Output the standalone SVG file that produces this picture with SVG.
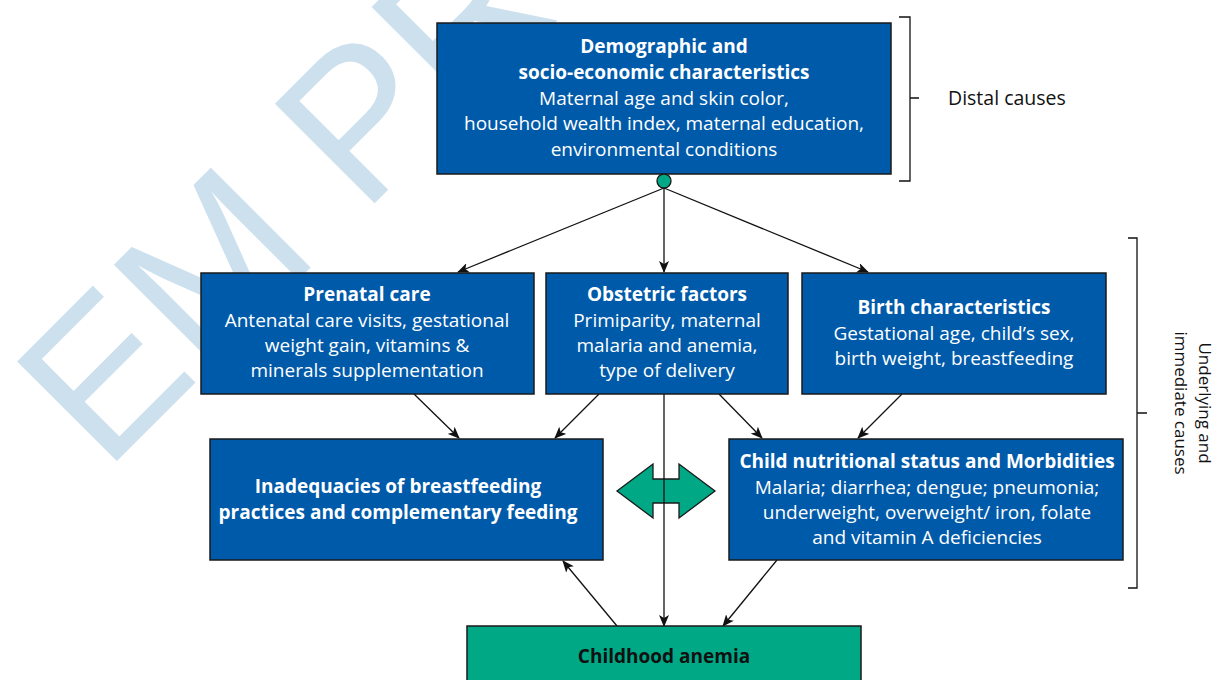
<svg xmlns="http://www.w3.org/2000/svg" width="1230" height="680" viewBox="0 0 1230 680">
<defs>
<marker id="ah" viewBox="0 0 12 10" refX="11" refY="5" markerWidth="12" markerHeight="10" markerUnits="userSpaceOnUse" orient="auto">
<path d="M0,0 L12,5 L0,10 L3,5 z" fill="#111"/>
</marker>
<style>
.box{fill:#005AAA;stroke:#1a1a1a;stroke-width:1.5}
.gbox{fill:#00A886;stroke:#1a1a1a;stroke-width:1.5}
.t{font-family:"Open Sans","Liberation Sans",sans-serif;font-size:19px;fill:#fff;text-anchor:middle}
.b{font-weight:bold}
.lbl{font-family:"Open Sans","Liberation Sans",sans-serif;font-size:19px;fill:#111}
.c{fill:none;stroke:#111;stroke-width:1.3}
.br{fill:none;stroke:#111;stroke-width:1.3}
.wm{font-family:"Liberation Sans",sans-serif;font-weight:normal;font-size:205px;fill:#CCE0EE}
</style>
</defs>
<rect width="1230" height="680" fill="#fff"/>
<text class="wm" transform="translate(105,473) rotate(-45)">EM PRO</text>

<g id="brackets">
<path class="br" d="M899,17 H910 V181 H899 M910,98 H919"/>
<path class="br" d="M1128,238 H1137 V588 H1128 M1137,413 H1147"/>
<text class="lbl" x="948" y="105" style="font-size:19.5px">Distal causes</text>
<text class="lbl" transform="translate(1199,403) rotate(90)" text-anchor="middle" style="font-size:17px">Underlying and</text>
<text class="lbl" transform="translate(1175,403) rotate(90)" text-anchor="middle" style="font-size:17px">immediate causes</text>
</g>

<g id="connectors">
<line class="c" x1="664" y1="188" x2="458" y2="272" marker-end="url(#ah)"/>
<line class="c" x1="664" y1="188" x2="664" y2="272" marker-end="url(#ah)"/>
<line class="c" x1="664" y1="188" x2="868" y2="272" marker-end="url(#ah)"/>
<line class="c" x1="414" y1="394" x2="459" y2="438" marker-end="url(#ah)"/>
<line class="c" x1="599" y1="394" x2="555" y2="438" marker-end="url(#ah)"/>
<line class="c" x1="719" y1="394" x2="762" y2="438" marker-end="url(#ah)"/>
<line class="c" x1="902" y1="394" x2="858" y2="438" marker-end="url(#ah)"/>
<line class="c" x1="617" y1="626" x2="563" y2="561" marker-end="url(#ah)"/>
<line class="c" x1="777" y1="560" x2="723" y2="626" marker-end="url(#ah)"/>
</g>

<g id="double-arrow">
<path d="M617,491 L653,464 L653,479 L679,479 L679,464 L715,491 L679,518 L679,503 L653,503 L653,518 Z" fill="#00A886" stroke="#1a1a1a" stroke-width="1.3"/>
</g>
<line class="c" x1="664" y1="394" x2="664" y2="626" marker-end="url(#ah)"/>

<g id="demographic">
<rect class="box" x="437" y="23" width="454" height="151"/>
<text class="t b" x="664" y="53">Demographic and</text>
<text class="t b" x="664" y="79">socio-economic characteristics</text>
<text class="t" x="664" y="105">Maternal age and skin color,</text>
<text class="t" x="664" y="130">household wealth index, maternal education,</text>
<text class="t" x="664" y="156">environmental conditions</text>
</g>
<circle cx="664" cy="181" r="7" fill="#00A886" stroke="#1a1a1a" stroke-width="1.3"/>

<g id="prenatal">
<rect class="box" x="201" y="273" width="333" height="121"/>
<text class="t b" x="367" y="301">Prenatal care</text>
<text class="t" x="367" y="327">Antenatal care visits, gestational</text>
<text class="t" x="367" y="352">weight gain, vitamins &amp;</text>
<text class="t" x="367" y="377">minerals supplementation</text>
</g>

<g id="obstetric">
<rect class="box" x="546" y="273" width="242" height="121"/>
<text class="t b" x="667" y="301">Obstetric factors</text>
<text class="t" x="667" y="327">Primiparity, maternal</text>
<text class="t" x="667" y="352">malaria and anemia,</text>
<text class="t" x="667" y="377">type of delivery</text>
</g>

<g id="birth">
<rect class="box" x="802" y="273" width="304" height="121"/>
<text class="t b" x="954" y="314">Birth characteristics</text>
<text class="t" x="954" y="340">Gestational age, child’s sex,</text>
<text class="t" x="954" y="365">birth weight, breastfeeding</text>
</g>

<g id="feeding">
<rect class="box" x="210" y="439" width="393" height="121"/>
<text class="t b" x="398" y="493">Inadequacies of breastfeeding</text>
<text class="t b" x="398" y="519">practices and complementary feeding</text>
</g>

<g id="nutrition">
<rect class="box" x="729" y="439" width="394" height="121"/>
<text class="t b" x="927" y="468">Child nutritional status and Morbidities</text>
<text class="t" x="927" y="494">Malaria; diarrhea; dengue; pneumonia;</text>
<text class="t" x="927" y="519">underweight, overweight/ iron, folate</text>
<text class="t" x="927" y="544">and vitamin A deficiencies</text>
</g>

<g id="anemia">
<rect class="gbox" x="467" y="626" width="394" height="70"/>
<text class="t b" x="664" y="663" style="fill:#111">Childhood anemia</text>
</g>
</svg>
